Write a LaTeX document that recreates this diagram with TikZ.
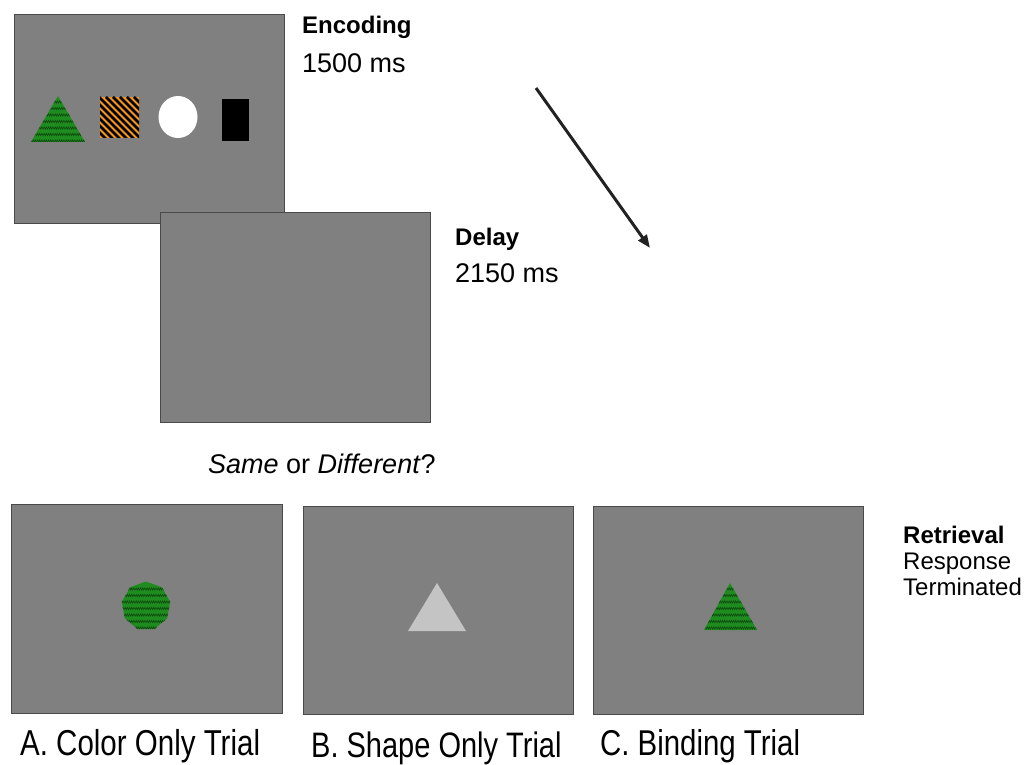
\documentclass[tikz,border=0pt]{standalone}
\usepackage{fontspec}
\setmainfont{Liberation Sans}
\usetikzlibrary{shapes.geometric,decorations.pathmorphing,arrows.meta}
\definecolor{scr}{HTML}{808080}
\definecolor{scredge}{HTML}{4A4A4A}
\definecolor{grn}{HTML}{1F8C1F}
\definecolor{grndark}{HTML}{0E4A0E}
\definecolor{orng}{HTML}{F5941E}
\definecolor{ltgray}{HTML}{C4C4C4}
\definecolor{arrcol}{HTML}{222222}
\begin{document}
\begin{tikzpicture}[x=1pt,y=-1pt,
  screen/.style={draw=scredge, line width=1pt, fill=scr, inner sep=0pt},
  hatchline/.style={draw=grndark, line width=0.6pt, decorate,
    decoration={zigzag, segment length=2.2pt, amplitude=1.1pt}},
  stripe/.style={draw=black, line width=2.6pt},
  lbl/.style={anchor=base west, inner sep=0pt},
  arr/.style={draw=arrcol, line width=3pt, -{Triangle[length=13pt,width=10pt]}}
]
\useasboundingbox (0,0) rectangle (1029,765);

% ---------- Encoding screen ----------
\node[screen, minimum width=270pt, minimum height=209pt] (enc) at (149,119.5) {};
% green hatched triangle
\fill[grn] (58,96) -- (85,142) -- (31,142) -- cycle;
\begin{scope}
  \clip (58,96) -- (85,142) -- (31,142) -- cycle;
  \foreach \yy in {102,108.5,...,143} \draw[hatchline] (26,\yy) -- (90,\yy);
\end{scope}
% orange striped square
\fill[orng] (100,97) rectangle (139,138);
\begin{scope}
  \clip (100,97) rectangle (139,138);
  \foreach \xx in {50,57,...,140} \draw[stripe] (\xx,97) -- ++(50,50);
\end{scope}
% white circle
\fill[white] (178,117) ellipse [x radius=19.5, y radius=21];
% black rectangle
\fill[black] (222,99) rectangle (249,141);

\node[lbl, font=\bfseries\fontsize{24}{28}\selectfont] (enct) at (302,34) {Encoding};
\node[lbl, font=\fontsize{27}{32}\selectfont] (encms) at (302,73) {1500 ms};

% ---------- Delay screen ----------
\node[screen, minimum width=270pt, minimum height=209pt] (del) at (295,317.5) {};
\node[lbl, font=\bfseries\fontsize{24}{28}\selectfont] (delt) at (455,245) {Delay};
\node[lbl, font=\fontsize{27}{32}\selectfont] (delms) at (455,282) {2150 ms};

% ---------- Arrow ----------
\coordinate (a1) at (536,88);
\coordinate (a2) at (650,248);
\draw[arr] (a1) -- (a2);

% ---------- Question ----------
\node[lbl, font=\fontsize{27}{32}\selectfont] (q) at (208,473) {\textit{Same} or \textit{Different}?};

% ---------- Retrieval screens ----------
\node[screen, minimum width=271pt, minimum height=209pt] (ra) at (146.5,608.5) {};
\node[screen, minimum width=270pt, minimum height=208pt] (rb) at (438,610) {};
\node[screen, minimum width=270pt, minimum height=208pt] (rc) at (728,610) {};

% A: green hatched polygon
\node[regular polygon, regular polygon sides=9, minimum size=49pt, fill=grn, inner sep=0pt] (poly) at (146,606) {};
\begin{scope}
  \clip (poly.corner 1) \foreach \i in {2,...,9} {-- (poly.corner \i)} -- cycle;
  \foreach \yy in {589,595.5,...,630} \draw[hatchline] (118,\yy) -- (174,\yy);
\end{scope}

% B: light gray triangle
\fill[ltgray] (437,583) -- (466,631) -- (408,631) -- cycle;

% C: green hatched triangle
\fill[grn] (730,583) -- (757,630) -- (704,630) -- cycle;
\begin{scope}
  \clip (730,583) -- (757,630) -- (704,630) -- cycle;
  \foreach \yy in {589,595.5,...,631} \draw[hatchline] (700,\yy) -- (762,\yy);
\end{scope}

% Retrieval label
\node[lbl, font=\bfseries\fontsize{24}{28}\selectfont] (rett) at (903,543) {Retrieval};
\node[lbl, font=\fontsize{24}{28}\selectfont] (resp) at (903,569) {Response};
\node[lbl, font=\fontsize{24}{28}\selectfont] (term) at (903,595) {Terminated};

% Captions
\node[lbl, font=\fontsize{29.5}{34}\selectfont] (capa) at (20,755) {\scalebox{1}[1.22]{A. Color Only Trial}};
\node[lbl, font=\fontsize{29}{34}\selectfont] (capb) at (311,757) {\scalebox{1}[1.22]{B. Shape Only Trial}};
\node[lbl, font=\fontsize{29.4}{34}\selectfont] (capc) at (600,755) {\scalebox{1}[1.22]{C. Binding Trial}};
\end{tikzpicture}
\end{document}
